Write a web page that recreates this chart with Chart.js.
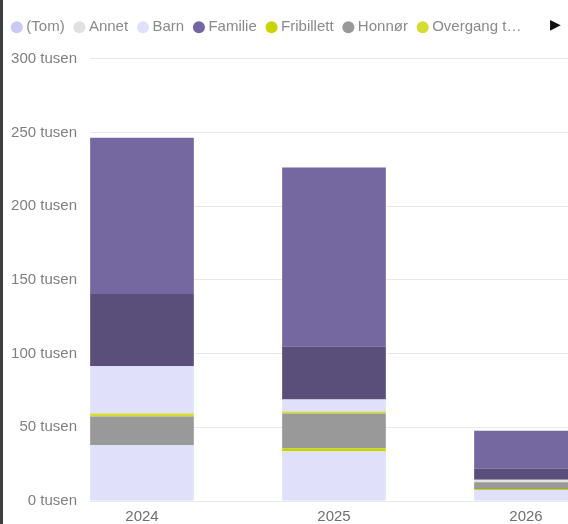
<!DOCTYPE html>
<html>
<head>
<meta charset="utf-8">
<script src="https://cdn.jsdelivr.net/npm/chart.js@4.4.1/dist/chart.umd.min.js"></script>
<style>
  html, body { margin: 0; padding: 0; background: #fff; overflow: hidden; }
  #wrap { position: relative; width: 568px; height: 524px; }
  #stripe { position: absolute; left: 0; top: 0; width: 3px; height: 524px; background: #3f3f3f; }
  #more { position: absolute; left: 550px; top: 16px; font: 14px "DejaVu Sans", sans-serif; color: #111; }
</style>
</head>
<body>
<div id="wrap">
  <canvas id="c" width="568" height="524"></canvas>
  <div id="stripe"></div>
  <div id="more">▶</div>
</div>
<script>
// ---- data ----
const categories = ['2024', '2025', '2026'];
const seriesNames = ['(Tom)', 'Annet', 'Barn', 'Familie', 'Fribillett', 'Honnør', 'Overgang t…', 'Student', 'Ungdom', 'Voksen'];
const tom        = [0, 0, 0];
const annet      = [0, 0, 0];
const barn       = [37800, 33800, 7400];
const familie    = [0, 0, 0];
const fribillett = [0, 2000, 700];
const honnor     = [19600, 23600, 4700];
const overgang   = [2000, 1400, 300];
const student    = [32000, 8100, 1400];
const ungdom     = [49000, 35800, 7400];
const voksen     = [106000, 121600, 25700];
const yTicks     = [0, 50000, 100000, 150000, 200000, 250000, 300000];

const seriesValues = [tom, annet, barn, familie, fribillett, honnor, overgang, student, ungdom, voksen];
const seriesColors = ['#c9c9f3', '#e1e1e1', '#e0e0fa', '#7466a0', '#c8d400', '#999999', '#d2dc32', '#e0e0fa', '#5a4e7a', '#7567a0'];
const legendCount = 7;

const datasets = seriesNames.map((name, i) => ({
  label: name,
  data: seriesValues[i].map((v, j) => ({ x: j, y: v })),
  backgroundColor: seriesColors[i],
  borderColor: seriesColors[i],
  borderWidth: 0,
  barPercentage: 0.54,
  categoryPercentage: 1
}));

const FONT = '"Liberation Sans", Arial, sans-serif';

const legendMargin = {
  id: 'legendMargin',
  beforeInit(chart) {
    const orig = chart.legend.fit;
    chart.legend.fit = function () { orig.call(this); this.height += 14; };
  }
};

new Chart(document.getElementById('c'), {
  type: 'bar',
  data: { datasets },
  plugins: [legendMargin],
  options: {
    responsive: false,
    animation: false,
    layout: { padding: { left: 2, right: 0, top: 7, bottom: 0 } },
    plugins: {
      tooltip: { enabled: false },
      legend: {
        position: 'top',
        align: 'start',
        labels: {
          usePointStyle: true,
          pointStyle: 'circle',
          boxWidth: 4,
          boxHeight: 8.5,
          padding: 12.8,
          color: '#8a8a8a',
          font: { family: FONT, size: 15 },
          filter: (item) => item.datasetIndex < legendCount
        }
      }
    },
    scales: {
      x: {
        type: 'linear',
        stacked: true,
        offset: false,
        min: -0.2708,
        max: 2.2188,
        grid: { display: false, drawTicks: false, offset: false },
        border: { display: false },
        afterBuildTicks: (scale) => { scale.ticks = categories.map((_, i) => ({ value: i })); },
        afterFit: (scale) => { scale.height = 23; },
        ticks: {
          includeBounds: false,
          padding: 7,
          color: '#6f6f6f',
          font: { family: FONT, size: 15 },
          callback: (v) => categories[v]
        }
      },
      y: {
        stacked: true,
        min: 0,
        max: 300000,
        afterBuildTicks: (scale) => { scale.ticks = yTicks.map(v => ({ value: v })); },
        afterFit: (scale) => { scale.width = 88; },
        grid: { color: '#e8e8e8', lineWidth: 1, drawTicks: false },
        border: { display: false },
        ticks: {
          padding: 13,
          color: '#7f7f7f',
          font: { family: FONT, size: 15 },
          callback: (v) => (v / 1000) + ' tusen'
        }
      }
    }
  }
});
</script>
</body>
</html>
